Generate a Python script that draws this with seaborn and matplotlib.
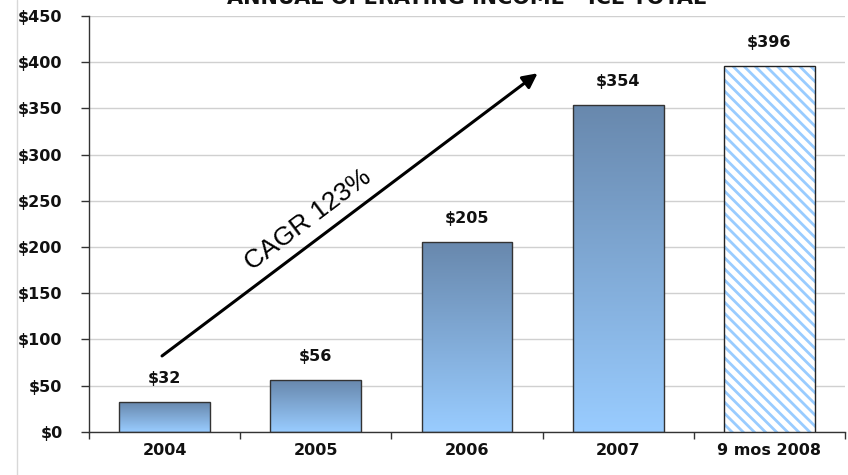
import numpy as np
import pandas as pd
import matplotlib
matplotlib.use("Agg")
import matplotlib.pyplot as plt
from matplotlib.patches import Rectangle
from matplotlib.colors import LinearSegmentedColormap
from matplotlib.lines import Line2D
import seaborn as sns

categories = ["2004", "2005", "2006", "2007", "9 mos 2008"]
values = [32, 56, 205, 354, 396]
value_labels = ["$32", "$56", "$205", "$354", "$396"]
yticks = [0, 50, 100, 150, 200, 250, 300, 350, 400, 450]
ytick_labels = ["$0", "$50", "$100", "$150", "$200", "$250", "$300", "$350", "$400", "$450"]
title = "ANNUAL OPERATING INCOME - ICE TOTAL"
cagr_text = "CAGR 123%"

sns.set_theme(style="white")
plt.rcParams['font.family'] = ['DejaVu Sans']
plt.rcParams['hatch.linewidth'] = 2.0

BOLD = dict(family="DejaVu Sans", fontweight="bold", color="#111111")

fig = plt.figure(figsize=(8.48, 4.75), dpi=100)
ax = fig.add_axes([89/848, 1-431.7/475, (845-89)/848, (431.7-16)/475])

df = pd.DataFrame({"cat": categories, "val": values})
sns.barplot(data=df, x="cat", y="val", ax=ax, color="#99ccff", width=0.6,
            edgecolor="#333333", linewidth=1.0, zorder=3)

ax.set_ylim(0, 450)
ax.set_xlim(-0.5, len(categories) - 0.5)

cmap = LinearSegmentedColormap.from_list("g", ["#99ccff", "#6888ad"])
grad = np.linspace(0, 1, 256).reshape(-1, 1)
patches = list(ax.patches)
for i, p in enumerate(patches):
    x0, y0 = p.get_x(), p.get_y()
    w, h = p.get_width(), p.get_height()
    if i < 4:
        p.set_facecolor("none")
        im = ax.imshow(grad, cmap=cmap, aspect="auto", origin="lower",
                       extent=[x0, x0 + w, y0, y0 + h], zorder=2.5)
        im.set_clip_path(p)
    else:
        p.set_facecolor("white")
        p.set_edgecolor("#99ccff")
        p.set_linewidth(0)
        p.set_hatch("\\\\\\")
        ax.add_patch(Rectangle((x0, y0), w, h, facecolor="none",
                               edgecolor="#222222", linewidth=1.0, zorder=4))
    ax.annotate(value_labels[i], (x0 + w / 2, y0 + h), xytext=(0, 17),
                textcoords="offset points", ha="center", va="center",
                fontsize=11.5, **BOLD)

ax.set_xlim(-0.5, len(categories) - 0.5)
ax.set_ylim(0, 450)

ax.set_yticks(yticks)
ax.set_yticklabels(ytick_labels, fontsize=11.5, **BOLD)
ax.set_xticks(range(len(categories)))
ax.set_xticklabels(categories, fontsize=11.5, **BOLD)
ax.set_xticks(np.arange(-0.5, len(categories), 1.0), minor=True)
ax.tick_params(axis="x", which="major", length=0, pad=8)
ax.tick_params(axis="x", which="minor", length=5, width=1, color="#333333", direction="out", bottom=True)
ax.tick_params(axis="y", length=6, width=1, color="#333333", direction="out", left=True, pad=13)
ax.set_xlabel("")
ax.set_ylabel("")

ax.yaxis.grid(True, color="#d0d0d0", linewidth=1.0, zorder=0)
ax.set_axisbelow(True)
for s in ["top", "right"]:
    ax.spines[s].set_visible(False)
for s in ["left", "bottom"]:
    ax.spines[s].set_visible(True)
    ax.spines[s].set_color("#333333")
    ax.spines[s].set_linewidth(1.0)

ax.annotate("", xy=(2.467, 388), xytext=(-0.017, 82),
            arrowprops=dict(arrowstyle="-|>", color="black", lw=2.2,
                            mutation_scale=22, shrinkA=0, shrinkB=0), zorder=5)
ax.text(0.95, 229, cagr_text, rotation=37, rotation_mode="anchor",
        ha="center", va="center", fontsize=19, family="Liberation Sans",
        color="black", zorder=5)

fig.text(467 / 848, 1 - 4 / 475, title, ha="center", va="baseline",
         fontsize=15, **BOLD)

fig.add_artist(Line2D([17/848, 17/848], [0, 1], color="#d8d8d8", linewidth=1.0))

fig.savefig("out.png", dpi=100)
